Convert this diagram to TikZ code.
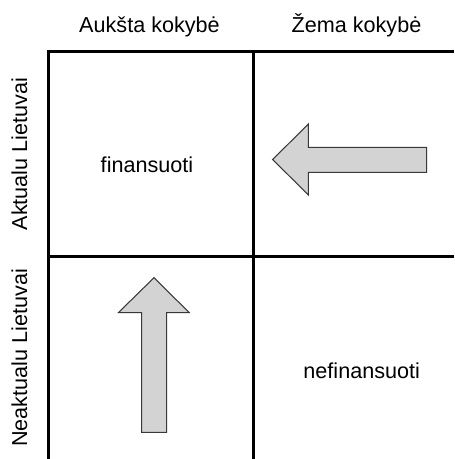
\documentclass[tikz,border=0pt]{standalone}
\usepackage{fontspec}
\setmainfont{Liberation Sans}
\definecolor{arrowfill}{HTML}{D3D3D3}
\definecolor{arrowline}{HTML}{383838}
\begin{document}
\begin{tikzpicture}[x=0.02cm,y=-0.02cm,
    gridline/.style={line width=1.7pt,black},
    bigarrow/.style={fill=arrowfill,draw=arrowline,line width=0.6pt,line join=miter},
    label/.style={font=\fontsize{12.3}{14}\selectfont,anchor=base,inner sep=0pt}]
  \useasboundingbox (0,0) rectangle (454,459);
  % grid lines
  \draw[gridline] (48.5,459) -- (48.5,51.5) -- (454,51.5);
  \draw[gridline] (253.5,51.5) -- (253.5,459);
  \draw[gridline] (48.5,256.5) -- (454,256.5);
  % column headers
  \node[label] (high) at (149.5,33) {Aukšta kokybė};
  \node[label] (low) at (356.5,33) {Žema kokybė};
  % row headers
  \node[label,rotate=90] (rel) at (27,154) {Aktualu Lietuvai};
  \node[label,rotate=90] (nrel) at (27,358) {Neaktualu Lietuvai};
  % cell texts
  \node[label] (fund) at (147,172.7) {finansuoti};
  \node[label] (nofund) at (361.7,378) {nefinansuoti};
  % left arrow
  \draw[bigarrow] (272.7,159.5) -- (308.3,124) -- (308.3,147.3) -- (426.7,147.3)
    -- (426.7,172.3) -- (308.3,172.3) -- (308.3,195) -- cycle;
  % up arrow
  \draw[bigarrow] (154,277.7) -- (189.3,312.7) -- (166.7,312.7) -- (166.7,432.3)
    -- (141.7,432.3) -- (141.7,312.7) -- (118.3,312.7) -- cycle;
\end{tikzpicture}
\end{document}
